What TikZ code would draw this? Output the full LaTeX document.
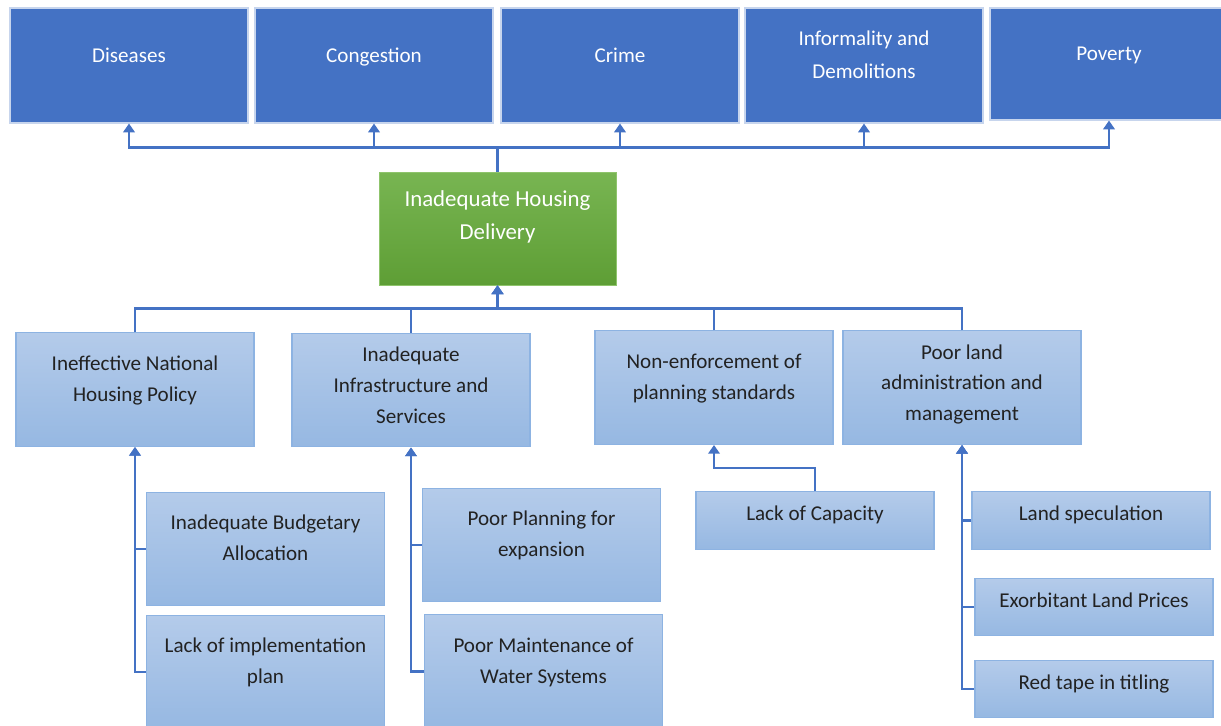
\documentclass[tikz,border=0pt]{standalone}
\usepackage{fontspec}
\setmainfont{Carlito}
\usepackage{tikz}
\usetikzlibrary{calc}
\usetikzlibrary{arrows.meta}
\definecolor{darkblue}{HTML}{4472C4}
\definecolor{lineblue}{HTML}{4472C4}
\definecolor{paletop}{HTML}{B4CBEA}
\definecolor{palebot}{HTML}{96B8E2}
\definecolor{paleedge}{HTML}{8DB3E2}
\definecolor{greentop}{HTML}{78B552}
\definecolor{greenbot}{HTML}{5E9E35}
\definecolor{greenedge}{HTML}{8FC46C}
\definecolor{ink}{HTML}{222222}
% lines stacked bottom-aligned, so text depth lifts them inside the box
\newcommand{\boxlines}[1]{\begin{tabular}[b]{@{}c@{}}#1\end{tabular}}
\tikzstyle{effnode} = [draw=white!70!darkblue, line width=0.6pt, fill=darkblue, text=white, minimum width=4.76cm, minimum height=2.3cm, text depth=17pt, font=\fontsize{12}{18.7}\selectfont]
\tikzstyle{corenode} = [draw=greenedge, top color=greentop, bottom color=greenbot, text=white, minimum width=4.74cm, minimum height=2.26cm, text depth=19pt, font=\fontsize{13}{18.7}\selectfont]
\tikzstyle{causenode} = [draw=paleedge, line width=0.8pt, top color=paletop, bottom color=palebot, text=ink, minimum width=4.76cm, minimum height=2.27cm, inner ysep=1pt, text depth=16.7pt, font=\fontsize{12}{17.6}\selectfont]
\tikzstyle{tallnode} = [causenode, text depth=9.5pt]
\tikzstyle{subnode} = [causenode, minimum height=1.15cm, text depth=12pt]
\tikzstyle{link} = [draw=lineblue, line width=1.5pt, -{Triangle[length=5pt,width=6.5pt]}]

\begin{document}
\begin{tikzpicture}
    \useasboundingbox (0,0) rectangle (24.42,-14.52);

    % effects
    \node[effnode] (eff_dis) at (2.58,-1.31) {\boxlines{Diseases}};
    \node[effnode] (eff_cong) at ($(eff_dis)+(4.9,0)$) {\boxlines{Congestion}};
    \node[effnode] (eff_crime) at ($(eff_cong)+(4.92,0)$) {\boxlines{Crime}};
    \node[effnode] (eff_inf) at ($(eff_crime)+(4.88,0)$) {\boxlines{Informality and\\Demolitions}};
    \node[effnode, minimum height=2.24cm] (eff_pov) at ($(eff_inf)+(4.9,0.03)$) {\boxlines{Poverty}};

    % core problem
    \node[corenode] (core) at (9.95,-4.57) {\boxlines{Inadequate Housing\\Delivery}};
    \coordinate (top_bus) at ($(core.north)+(0,0.48)$);
    \coordinate (low_bus) at ($(core.south)+(0,-0.46)$);

    % causes
    \node[causenode] (cause_pol) at (2.70,-7.79) {\boxlines{Ineffective National\\Housing Policy}};
    \node[tallnode] (cause_infra) at ($(cause_pol)+(5.52,-0.01)$) {\boxlines{Inadequate\\Infrastructure and\\Services}};
    \node[causenode] (cause_std) at (14.28,-7.75) {\boxlines{Non-enforcement of\\planning standards}};
    \node[tallnode] (cause_land) at ($(cause_std)+(4.96,0)$) {\boxlines{Poor land\\administration and\\management}};

    % sub-causes
    \node[causenode] (sub_bud) at (5.31,-10.98) {\boxlines{Inadequate Budgetary\\Allocation}};
    \node[causenode] (sub_impl) at ($(sub_bud)+(0,-2.46)$) {\boxlines{Lack of implementation\\plan}};
    \node[causenode] (sub_plan) at (10.83,-10.90) {\boxlines{Poor Planning for\\expansion}};
    \node[causenode] (sub_maint) at ($(sub_plan)+(0.04,-2.53)$) {\boxlines{Poor Maintenance of\\Water Systems}};
    \node[subnode] (sub_cap) at (16.30,-10.41) {\boxlines{Lack of Capacity}};
    \node[subnode] (sub_spec) at (21.82,-10.41) {\boxlines{Land speculation}};
    \node[subnode] (sub_price) at ($(sub_spec)+(0.06,-1.73)$) {\boxlines{Exorbitant Land Prices}};
    \node[subnode] (sub_red) at ($(sub_price)+(0,-1.64)$) {\boxlines{Red tape in titling}};

    % links
    \foreach \eff in {eff_dis, eff_cong, eff_crime, eff_inf, eff_pov}
        \draw[link] (core.north) -- (top_bus) -| (\eff.south);
    \foreach \cause in {cause_pol, cause_infra, cause_std, cause_land}
        \draw[link] (\cause.north) |- (low_bus) -- (core.south);
    \foreach \sub in {sub_bud, sub_impl}
        \draw[link] (\sub.west) -| (cause_pol.south);
    \foreach \sub in {sub_plan, sub_maint}
        \draw[link] (\sub.west) -| (cause_infra.south);
    \draw[link] (sub_cap.north) |- ($(cause_std.south)!0.5!(sub_cap.north)$) -| (cause_std.south);
    \foreach \sub in {sub_spec, sub_price, sub_red}
        \draw[link] (\sub.west) -| (cause_land.south);
\end{tikzpicture}
\end{document}
